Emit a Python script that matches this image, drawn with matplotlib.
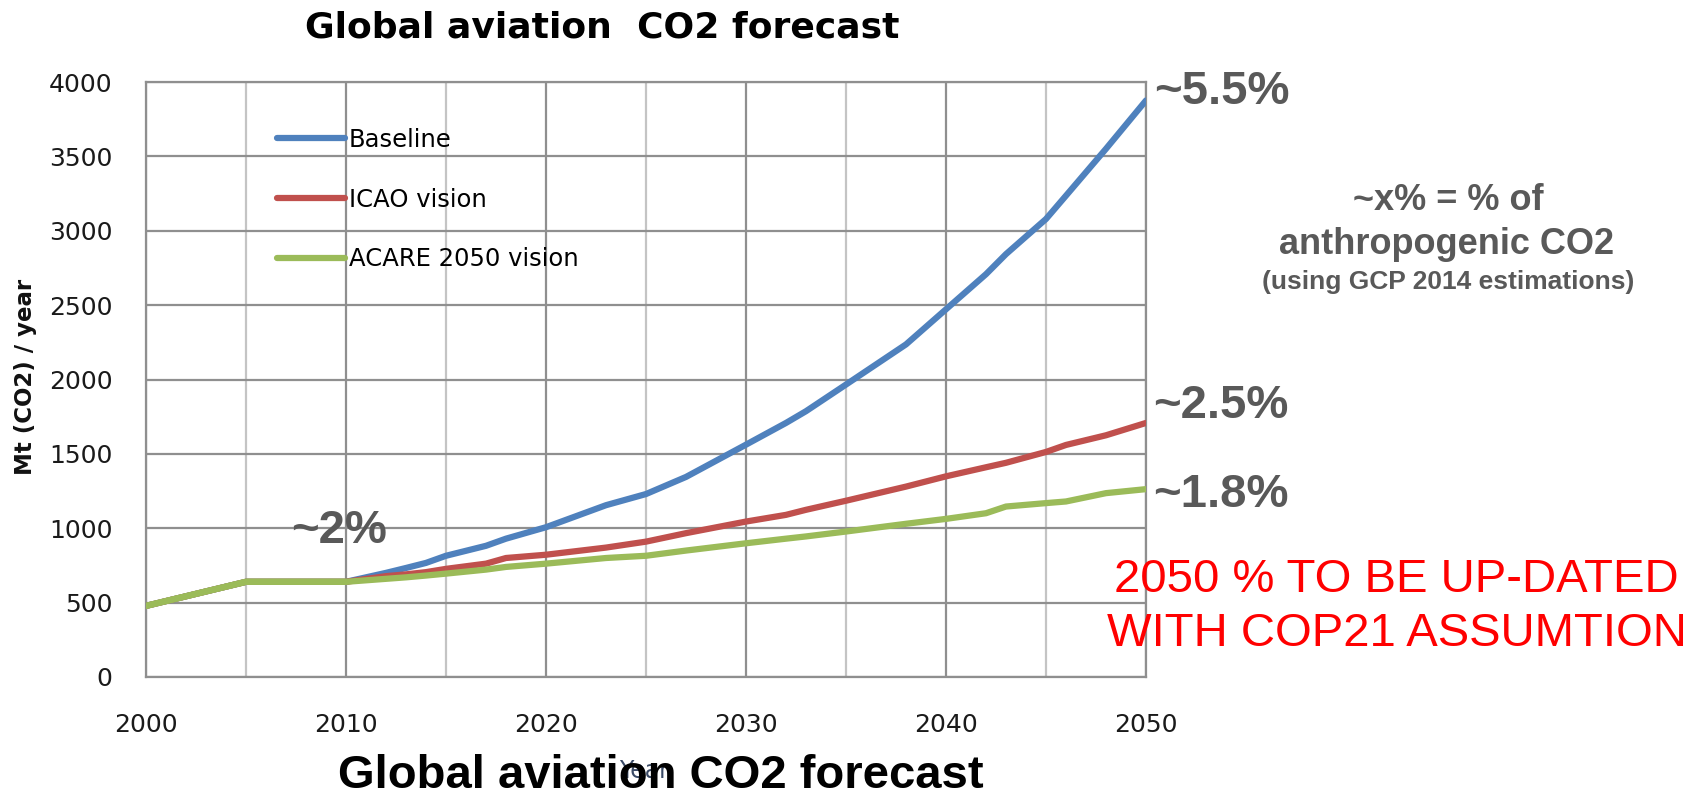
import matplotlib
matplotlib.use("Agg")
import matplotlib.pyplot as plt
from matplotlib.ticker import MultipleLocator

years = [2000, 2005, 2010, 2012, 2013, 2014, 2015, 2017, 2018, 2020, 2023, 2025, 2027,
         2030, 2032, 2033, 2035, 2038, 2040, 2042, 2043, 2045, 2046, 2048, 2050]
baseline = [478, 640, 640, 700, 733, 767, 815, 882, 930, 1007, 1155, 1230, 1345,
            1562, 1708, 1787, 1966, 2236, 2472, 2708, 2843, 3079, 3236, 3551, 3876]
icao = [478, 640, 640, 678, 690, 705, 727, 762, 800, 822, 870, 910, 967,
        1045, 1090, 1124, 1185, 1280, 1349, 1410, 1440, 1513, 1560, 1625, 1708]
acare = [478, 640, 640, 660, 670, 682, 695, 722, 740, 762, 800, 815, 850,
         899, 930, 945, 978, 1030, 1063, 1101, 1146, 1169, 1180, 1236, 1263]
series_names = ["Baseline", "ICAO vision", "ACARE 2050 vision"]
series_colors = ["#4F81BD", "#C0504D", "#9BBB59"]

W, H = 1706, 799
fig = plt.figure(figsize=(W / 100, H / 100), dpi=100)
fig.patch.set_facecolor("white")

def fx(px):
    return px / W

def fy(py):
    return 1 - py / H

ax = fig.add_axes([fx(146), fy(677), fx(1146) - fx(146), fy(82) - fy(677)])
ax.set_xlim(2000, 2050)
ax.set_ylim(0, 4000)

LW = 4.5
for vals, name, col in zip([baseline, icao, acare], series_names, series_colors):
    ax.plot(years, vals, color=col, lw=LW, label=name, solid_capstyle="round",
            solid_joinstyle="round", zorder=3)
# green drawn on top of the shared early part
ax.plot(years[:3], acare[:3], color=series_colors[2], lw=LW, zorder=4,
        solid_capstyle="round", solid_joinstyle="round")

ax.xaxis.set_major_locator(MultipleLocator(10))
ax.xaxis.set_minor_locator(MultipleLocator(5))
ax.yaxis.set_major_locator(MultipleLocator(500))
ax.grid(which="major", axis="both", color="#8f8f8f", lw=1.6, zorder=1)
ax.grid(which="minor", axis="x", color="#c4c4c4", lw=1.6, zorder=1)
for s in ax.spines.values():
    s.set_color("#8f8f8f")
    s.set_linewidth(1.6)
ax.tick_params(which="both", length=0)
ax.tick_params(axis="y", pad=24, labelsize=18, labelcolor="#1a1a1a")
ax.tick_params(axis="x", pad=26, labelsize=18, labelcolor="#1a1a1a")

leg = ax.legend(loc="upper left", bbox_to_anchor=(fx(277), fy(128)),
                bbox_transform=fig.transFigure, frameon=False, fontsize=17.5,
                handlelength=2.8, handletextpad=0.16, labelspacing=1.47,
                borderpad=0, borderaxespad=0)
for line in leg.get_lines():
    line.set_linewidth(LW)

# axis titles
fig.text(fx(26), fy(377), "Mt (CO2) / year", rotation=90, ha="center", va="center",
         fontsize=16.5, fontweight="bold", color="#111111")
fig.text(fx(644), fy(771), "Year", ha="center", va="center", fontsize=17,
         color="#3a4a66", zorder=1)

# titles
fig.text(fx(602), fy(27), "Global aviation  CO2 forecast", ha="center", va="center",
         fontsize=26, fontweight="bold", color="#000000")
fig.text(fx(661), 0.001, "Global aviation CO2 forecast", ha="center", va="bottom",
         fontsize=34, fontweight="bold", color="#000000", family="Liberation Sans", zorder=5)

gray = "#595959"
pct_font = dict(fontsize=34, fontweight="bold", color=gray, family="Liberation Sans",
                va="center", ha="left")
fig.text(fx(1154), fy(92), "~5.5%", **pct_font)
fig.text(fx(1153), fy(406), "~2.5%", **pct_font)
fig.text(fx(1153), fy(495), "~1.8%", **pct_font)
fig.text(fx(291), fy(531), "~2%", **pct_font)

fig.text(fx(1448), fy(200), "~x% = % of", ha="center", va="center", fontsize=26,
         fontweight="bold", color=gray, family="Liberation Sans")
fig.text(fx(1447), fy(244), "anthropogenic CO2", ha="center", va="center", fontsize=26,
         fontweight="bold", color=gray, family="Liberation Sans")
fig.text(fx(1448), fy(282), "(using GCP 2014 estimations)", ha="center", va="center",
         fontsize=19, fontweight="bold", color=gray, family="Liberation Sans")

fig.text(fx(1396), fy(580), "2050 % TO BE UP-DATED", ha="center", va="center",
         fontsize=34, color="#FF0000", family="Liberation Sans")
fig.text(fx(1397), fy(634), "WITH COP21 ASSUMTION", ha="center", va="center",
         fontsize=34, color="#FF0000", family="Liberation Sans")

fig.savefig("out.png", dpi=100, facecolor="white")
